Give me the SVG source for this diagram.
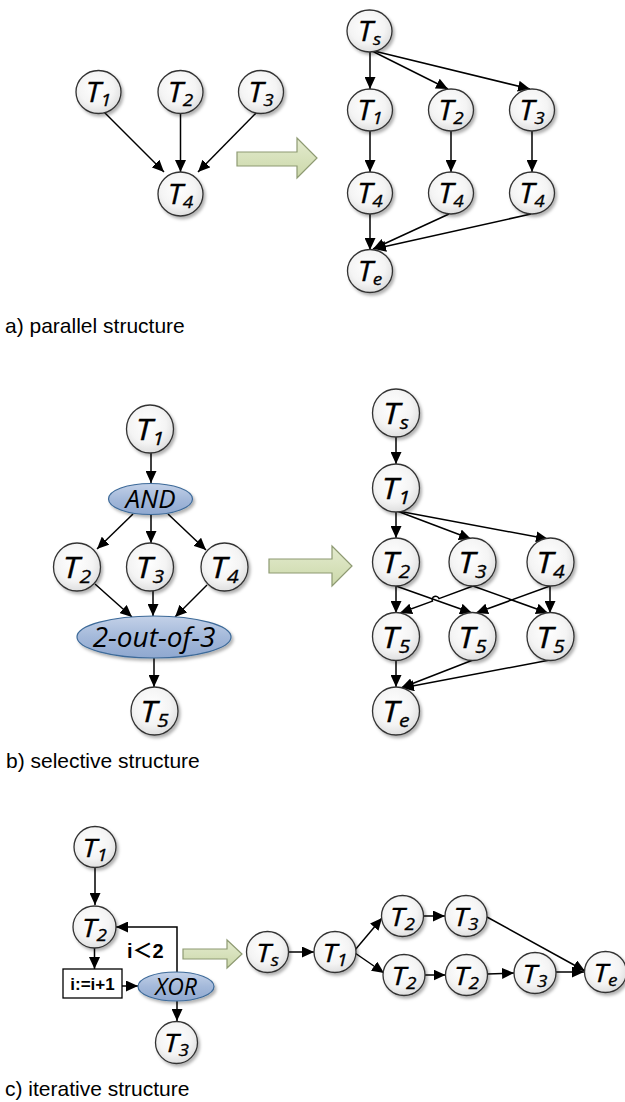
<svg xmlns="http://www.w3.org/2000/svg" width="625" height="1102" viewBox="0 0 625 1102">
<style>
.bg{fill:#ffffff}
.node{fill:url(#nodeFill);stroke:#333;stroke-width:1.3;filter:url(#sh)}
.gate{fill:url(#gateFill);stroke:#3d6a99;stroke-width:1.2;filter:url(#sh)}
.blk{fill:url(#blkFill);stroke:#8e9a72;stroke-width:1.2}
.e{fill:none;stroke:#000;stroke-width:1.5;marker-end:url(#ah)}
.t{font-family:"Open Sans","Noto Sans",sans-serif;font-style:italic;font-size:27px;fill:#000;stroke:#000;stroke-width:0.3;text-anchor:middle}
.tb{font-family:"Open Sans","Noto Sans",sans-serif;font-style:italic;font-size:30px;fill:#000;stroke:#000;stroke-width:0.3;text-anchor:middle}
.tc{font-family:"Open Sans","Noto Sans",sans-serif;font-style:italic;font-size:26px;fill:#000;stroke:#000;stroke-width:0.3;text-anchor:middle}
.s{font-size:17px}
.sb{font-size:19px}
.g{font-family:"Open Sans","Noto Sans",sans-serif;font-style:italic;fill:#000;text-anchor:middle}
.lab{font-family:"Liberation Sans",Arial,sans-serif;font-size:21px;fill:#000}
.box{fill:#fff;stroke:#000;stroke-width:1.3}
.bold{font-family:"Liberation Sans",Arial,"Noto Sans CJK SC",sans-serif;font-weight:bold;fill:#000}
</style>
<defs>
<radialGradient id="nodeFill" cx="45%" cy="40%" r="65%">
<stop offset="0" stop-color="#ffffff"/>
<stop offset="0.6" stop-color="#f4f4f4"/>
<stop offset="1" stop-color="#dadada"/>
</radialGradient>
<linearGradient id="gateFill" x1="0" y1="0" x2="0" y2="1">
<stop offset="0" stop-color="#c3d1e8"/>
<stop offset="0.5" stop-color="#a4b9da"/>
<stop offset="1" stop-color="#8fa8d0"/>
</linearGradient>
<linearGradient id="blkFill" x1="0" y1="0" x2="0" y2="1">
<stop offset="0" stop-color="#e4ebcf"/>
<stop offset="1" stop-color="#cbd8a9"/>
</linearGradient>
<filter id="sh" x="-30%" y="-30%" width="170%" height="170%">
<feDropShadow dx="2" dy="2.5" stdDeviation="1.5" flood-color="#000" flood-opacity="0.3"/>
</filter>
<marker id="ah" markerUnits="userSpaceOnUse" markerWidth="12" markerHeight="11" refX="12" refY="5.5" orient="auto">
<path d="M0,0 L12,5.5 L0,11 Z" fill="#000"/>
</marker>
</defs>
<rect class="bg" x="0" y="0" width="625" height="1102"/>

<g id="connectors">
<!-- a left -->
<line class="e" x1="102" y1="110" x2="164" y2="172"/>
<line class="e" x1="180.5" y1="114" x2="180.5" y2="172"/>
<line class="e" x1="259" y1="110" x2="198" y2="172"/>
<!-- a right -->
<line class="e" x1="370" y1="52" x2="370" y2="89"/>
<line class="e" x1="372" y1="51" x2="448" y2="89"/>
<line class="e" x1="374" y1="51" x2="530" y2="89"/>
<line class="e" x1="370" y1="131" x2="370" y2="172"/>
<line class="e" x1="451" y1="131" x2="451" y2="172"/>
<line class="e" x1="532" y1="131" x2="532" y2="172"/>
<line class="e" x1="370" y1="214" x2="370" y2="250"/>
<line class="e" x1="449" y1="214" x2="373" y2="249"/>
<line class="e" x1="531" y1="214" x2="374" y2="249"/>
<!-- b left -->
<line class="e" x1="151" y1="453" x2="151" y2="483"/>
<line class="e" x1="133" y1="514" x2="97" y2="549"/>
<line class="e" x1="151" y1="515" x2="151" y2="543"/>
<line class="e" x1="168" y1="514" x2="206" y2="550"/>
<line class="e" x1="95" y1="584" x2="132" y2="617"/>
<line class="e" x1="153" y1="591" x2="153" y2="616"/>
<line class="e" x1="207" y1="585" x2="175" y2="617"/>
<line class="e" x1="154" y1="658" x2="154" y2="687"/>
<!-- b right -->
<line class="e" x1="396" y1="437" x2="396" y2="464"/>
<line class="e" x1="396" y1="512" x2="396" y2="538"/>
<line class="e" x1="397" y1="511" x2="471" y2="539"/>
<line class="e" x1="398" y1="511" x2="548" y2="539"/>
<line class="e" x1="396" y1="586" x2="396" y2="613"/>
<line class="e" x1="396" y1="586" x2="472" y2="613"/>
<path class="e" d="M473,586 L439,598.6 A3.5,3.5 0 0 0 432.4,601.1 L400,613"/>
<line class="e" x1="473" y1="586" x2="548" y2="613"/>
<line class="e" x1="550" y1="586" x2="476" y2="613"/>
<line class="e" x1="550" y1="586" x2="550" y2="613"/>
<line class="e" x1="396" y1="660" x2="396" y2="687"/>
<line class="e" x1="473" y1="660" x2="401" y2="688"/>
<line class="e" x1="550" y1="660" x2="402" y2="688"/>
<!-- c left -->
<line class="e" x1="95" y1="868" x2="95" y2="905"/>
<line class="e" x1="94.5" y1="948" x2="94.5" y2="969"/>
<line class="e" x1="122" y1="986" x2="138" y2="986"/>
<line class="e" x1="177" y1="1001" x2="177" y2="1021"/>
<path class="e" d="M177,972 L177,927 L116,927"/>
<!-- c right -->
<line class="e" x1="288.5" y1="952" x2="314" y2="952"/>
<line class="e" x1="355" y1="950" x2="382" y2="918"/>
<line class="e" x1="355" y1="953" x2="384" y2="973"/>
<line class="e" x1="423.5" y1="916" x2="445" y2="916"/>
<line class="e" x1="487" y1="917" x2="585" y2="971"/>
<line class="e" x1="425" y1="975" x2="445.5" y2="975"/>
<line class="e" x1="487.5" y1="974" x2="514" y2="973"/>
<line class="e" x1="556" y1="972" x2="584" y2="972"/>
</g>

<!-- block arrows -->
<g id="arrow_a"><path class="blk" d="M237,152 L297,152 L297,138 L317,158 L297,178 L297,166 L237,166 Z"/></g>
<g id="arrow_b"><path class="blk" d="M269,559 L332,559 L332,546 L352,566 L332,586 L332,573 L269,573 Z"/></g>
<g id="arrow_c"><path class="blk" d="M183,949 L227,949 L227,940 L242,954 L227,968 L227,959 L183,959 Z"/></g>

<!-- section a -->
<g id="a_T1" transform="translate(98.5,92)"><ellipse class="node" rx="22.5" ry="21.5"/><text class="t" transform="scale(1.12,1)" y="10">T<tspan class="s" dy="4">1</tspan></text></g>
<g id="a_T2" transform="translate(180.5,92)"><ellipse class="node" rx="22.5" ry="21.5"/><text class="t" transform="scale(1.12,1)" y="10">T<tspan class="s" dy="4">2</tspan></text></g>
<g id="a_T3" transform="translate(261,92)"><ellipse class="node" rx="22.5" ry="21.5"/><text class="t" transform="scale(1.12,1)" y="10">T<tspan class="s" dy="4">3</tspan></text></g>
<g id="a_T4" transform="translate(180.5,194)"><ellipse class="node" rx="22.5" ry="22"/><text class="t" transform="scale(1.12,1)" y="10">T<tspan class="s" dy="4">4</tspan></text></g>

<g id="a_Ts" transform="translate(369.5,31)"><ellipse class="node" rx="22.5" ry="21"/><text class="t" transform="scale(1.12,1)" y="10">T<tspan class="s" dy="4">s</tspan></text></g>
<g id="a_rT1" transform="translate(370,110)"><ellipse class="node" rx="22.5" ry="21"/><text class="t" transform="scale(1.12,1)" y="10">T<tspan class="s" dy="4">1</tspan></text></g>
<g id="a_rT2" transform="translate(451,110)"><ellipse class="node" rx="22.5" ry="21"/><text class="t" transform="scale(1.12,1)" y="10">T<tspan class="s" dy="4">2</tspan></text></g>
<g id="a_rT3" transform="translate(532,110)"><ellipse class="node" rx="22.5" ry="21"/><text class="t" transform="scale(1.12,1)" y="10">T<tspan class="s" dy="4">3</tspan></text></g>
<g id="a_rT4a" transform="translate(370,193)"><ellipse class="node" rx="22.5" ry="21"/><text class="t" transform="scale(1.12,1)" y="10">T<tspan class="s" dy="4">4</tspan></text></g>
<g id="a_rT4b" transform="translate(451,193)"><ellipse class="node" rx="22.5" ry="21"/><text class="t" transform="scale(1.12,1)" y="10">T<tspan class="s" dy="4">4</tspan></text></g>
<g id="a_rT4c" transform="translate(532,193)"><ellipse class="node" rx="22.5" ry="21"/><text class="t" transform="scale(1.12,1)" y="10">T<tspan class="s" dy="4">4</tspan></text></g>
<g id="a_Te" transform="translate(370,271)"><ellipse class="node" rx="22.5" ry="21.5"/><text class="t" transform="scale(1.12,1)" y="10">T<tspan class="s" dy="4">e</tspan></text></g>

<text class="lab" x="5" y="333">a) parallel structure</text>

<!-- section b -->
<g id="b_T1" transform="translate(150,429)"><ellipse class="node" rx="23.5" ry="24"/><text class="tb" transform="scale(1.12,1)" y="11">T<tspan class="sb" dy="5">1</tspan></text></g>
<g id="b_AND" transform="translate(150.5,499)"><ellipse class="gate" rx="42" ry="15.5"/><text class="g" font-size="26" y="9">AND</text></g>
<g id="b_T2" transform="translate(77,567)"><ellipse class="node" rx="23.5" ry="24"/><text class="tb" transform="scale(1.12,1)" y="11">T<tspan class="sb" dy="5">2</tspan></text></g>
<g id="b_T3" transform="translate(150,567)"><ellipse class="node" rx="23.5" ry="24"/><text class="tb" transform="scale(1.12,1)" y="11">T<tspan class="sb" dy="5">3</tspan></text></g>
<g id="b_T4" transform="translate(224.5,567)"><ellipse class="node" rx="23.5" ry="24"/><text class="tb" transform="scale(1.12,1)" y="11">T<tspan class="sb" dy="5">4</tspan></text></g>
<g id="b_2of3" transform="translate(154,637)"><ellipse class="gate" rx="77" ry="21"/><text class="g" font-size="28" y="10">2-out-of-3</text></g>
<g id="b_T5" transform="translate(154.5,711)"><ellipse class="node" rx="23.5" ry="24"/><text class="tb" transform="scale(1.12,1)" y="11">T<tspan class="sb" dy="5">5</tspan></text></g>

<g id="b_Ts" transform="translate(396,413)"><ellipse class="node" rx="23.5" ry="24"/><text class="tb" transform="scale(1.12,1)" y="11">T<tspan class="sb" dy="5">s</tspan></text></g>
<g id="b_rT1" transform="translate(396,488)"><ellipse class="node" rx="23.5" ry="24"/><text class="tb" transform="scale(1.12,1)" y="11">T<tspan class="sb" dy="5">1</tspan></text></g>
<g id="b_rT2" transform="translate(396,562)"><ellipse class="node" rx="23.5" ry="24"/><text class="tb" transform="scale(1.12,1)" y="11">T<tspan class="sb" dy="5">2</tspan></text></g>
<g id="b_rT3" transform="translate(472.5,562)"><ellipse class="node" rx="23.5" ry="24"/><text class="tb" transform="scale(1.12,1)" y="11">T<tspan class="sb" dy="5">3</tspan></text></g>
<g id="b_rT4" transform="translate(550.5,562)"><ellipse class="node" rx="23.5" ry="24"/><text class="tb" transform="scale(1.12,1)" y="11">T<tspan class="sb" dy="5">4</tspan></text></g>
<g id="b_rT5a" transform="translate(396,636.5)"><ellipse class="node" rx="23.5" ry="24"/><text class="tb" transform="scale(1.12,1)" y="11">T<tspan class="sb" dy="5">5</tspan></text></g>
<g id="b_rT5b" transform="translate(472.5,636.5)"><ellipse class="node" rx="23.5" ry="24"/><text class="tb" transform="scale(1.12,1)" y="11">T<tspan class="sb" dy="5">5</tspan></text></g>
<g id="b_rT5c" transform="translate(550.5,636.5)"><ellipse class="node" rx="23.5" ry="24"/><text class="tb" transform="scale(1.12,1)" y="11">T<tspan class="sb" dy="5">5</tspan></text></g>
<g id="b_Te" transform="translate(396,711)"><ellipse class="node" rx="23.5" ry="24"/><text class="tb" transform="scale(1.12,1)" y="11">T<tspan class="sb" dy="5">e</tspan></text></g>

<text class="lab" x="6" y="768">b) selective structure</text>

<!-- section c -->
<g id="c_T1" transform="translate(95,847)"><ellipse class="node" rx="21" ry="20.5"/><text class="tc" transform="scale(1.12,1)" y="9.5">T<tspan class="s" dy="4">1</tspan></text></g>
<g id="c_T2" transform="translate(94.5,927)"><ellipse class="node" rx="21.5" ry="21"/><text class="tc" transform="scale(1.12,1)" y="9.5">T<tspan class="s" dy="4">2</tspan></text></g>
<g id="c_inc"><rect class="box" x="63" y="969" width="59" height="29"/><text class="bold" x="92.5" y="990" font-size="17" text-anchor="middle">i:=i+1</text></g>
<g id="c_XOR" transform="translate(176,986.5)"><ellipse class="gate" rx="38" ry="14.5"/><text class="g" font-size="23" y="8">XOR</text></g>
<g id="c_T3" transform="translate(176.5,1042.5)"><ellipse class="node" rx="21" ry="21"/><text class="tc" transform="scale(1.12,1)" y="9.5">T<tspan class="s" dy="4">3</tspan></text></g>
<text class="bold" x="127" y="958" font-size="20">i＜2</text>

<g id="c_Ts" transform="translate(267.5,952)"><ellipse class="node" rx="21" ry="20.5"/><text class="tc" transform="scale(1.12,1)" y="9.5">T<tspan class="s" dy="4">s</tspan></text></g>
<g id="c_rT1" transform="translate(335,952)"><ellipse class="node" rx="21" ry="20.5"/><text class="tc" transform="scale(1.12,1)" y="9.5">T<tspan class="s" dy="4">1</tspan></text></g>
<g id="c_uT2" transform="translate(402.5,916)"><ellipse class="node" rx="21" ry="20.5"/><text class="tc" transform="scale(1.12,1)" y="9.5">T<tspan class="s" dy="4">2</tspan></text></g>
<g id="c_uT3" transform="translate(466,916)"><ellipse class="node" rx="21" ry="20.5"/><text class="tc" transform="scale(1.12,1)" y="9.5">T<tspan class="s" dy="4">3</tspan></text></g>
<g id="c_lT2a" transform="translate(404,975)"><ellipse class="node" rx="21" ry="20.5"/><text class="tc" transform="scale(1.12,1)" y="9.5">T<tspan class="s" dy="4">2</tspan></text></g>
<g id="c_lT2b" transform="translate(466.5,975)"><ellipse class="node" rx="21" ry="20.5"/><text class="tc" transform="scale(1.12,1)" y="9.5">T<tspan class="s" dy="4">2</tspan></text></g>
<g id="c_lT3" transform="translate(535,973)"><ellipse class="node" rx="21" ry="20.5"/><text class="tc" transform="scale(1.12,1)" y="9.5">T<tspan class="s" dy="4">3</tspan></text></g>
<g id="c_Te" transform="translate(605.5,972)"><ellipse class="node" rx="21" ry="20.5"/><text class="tc" transform="scale(1.12,1)" y="9.5">T<tspan class="s" dy="4">e</tspan></text></g>

<text class="lab" x="5" y="1096">c) iterative structure</text>
</svg>
